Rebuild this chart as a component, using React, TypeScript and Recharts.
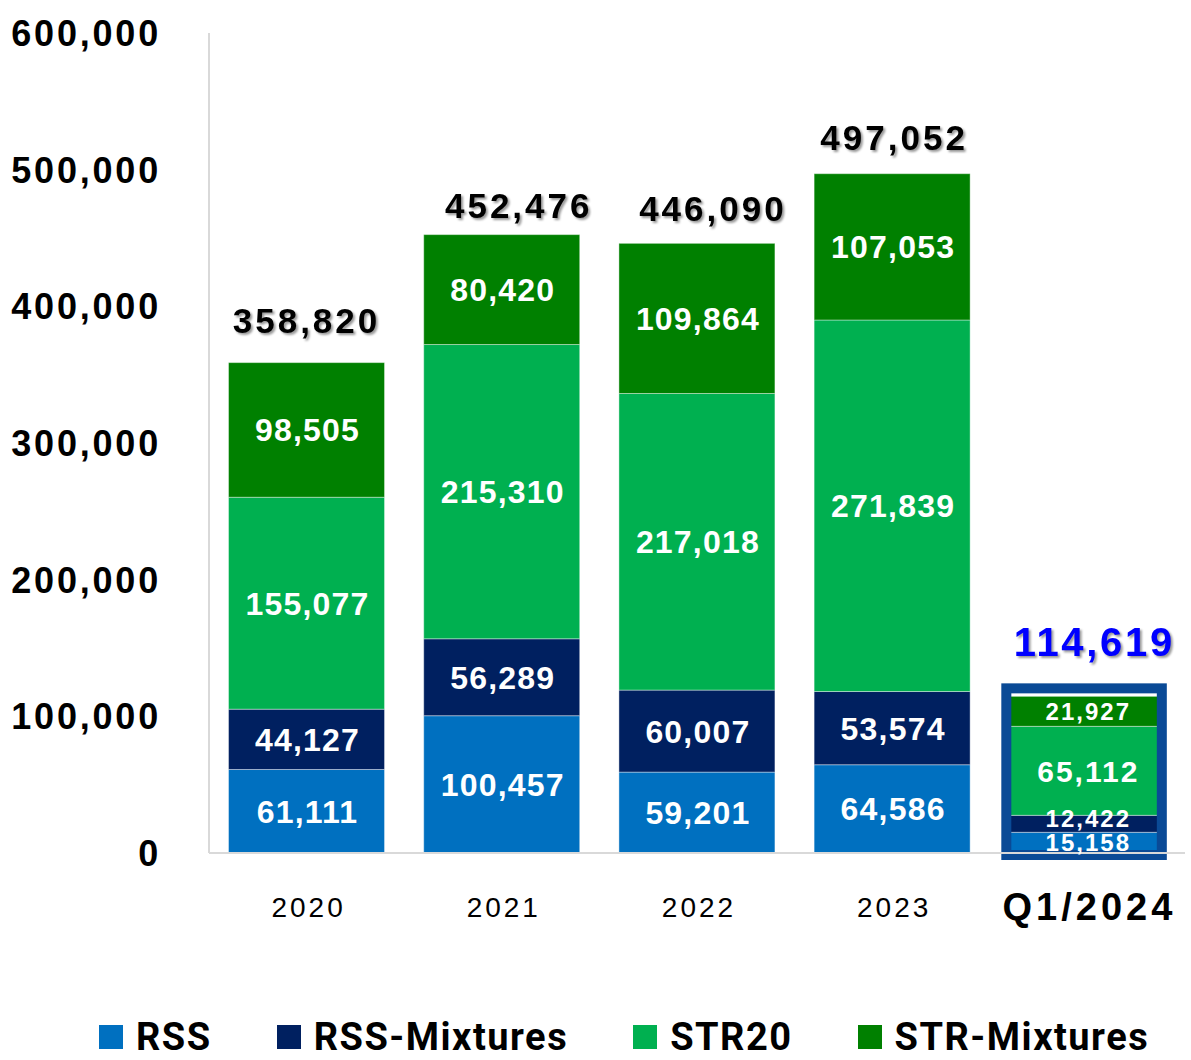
import { Bar, BarChart, LabelList, XAxis, YAxis } from "recharts";

const categories = ["2020", "2021", "2022", "2023", "Q1/2024"];
const rss = [61111, 100457, 59201, 64586, 15158];
const rssMixtures = [44127, 56289, 60007, 53574, 12422];
const str20 = [155077, 215310, 217018, 271839, 65112];
const strMixtures = [98505, 80420, 109864, 107053, 21927];
const totals = [358820, 452476, 446090, 497052, 114619];
const yTicks = [0, 100000, 200000, 300000, 400000, 500000, 600000];

const chartData = categories.map((label, i) => ({
    label,
    rss: rss[i],
    rssMixtures: rssMixtures[i],
    str20: str20[i],
    strMixtures: strMixtures[i],
    total: totals[i]
}));

const series = [
    { key: "rss", name: "RSS", color: "#0070C0" },
    { key: "rssMixtures", name: "RSS-Mixtures", color: "#002060" },
    { key: "str20", name: "STR20", color: "#00B050" },
    { key: "strMixtures", name: "STR-Mixtures", color: "#008000" }
];

// hand nudges for the total labels, like the original slide
const totalNudge = [
    { dx: 0, dy: -30 },
    { dx: 17, dy: -17 },
    { dx: 16, dy: -22 },
    { dx: 2, dy: -24 },
    { dx: 7, dy: -40 }
];

const FONT = "'Liberation Sans', Arial, sans-serif";
const fmt = (v: number) => v.toLocaleString("en-US");
const LAST = categories.length - 1;

function YTick({ x, y, payload }: any) {
    return (
        <text x={x - 46} y={y + 13} textAnchor="end" fontFamily={FONT} fontSize={36}
            fontWeight={700} letterSpacing={2.8} fill="#000">
            {fmt(payload.value)}
        </text>
    );
}

function XTick({ x, y, payload }: any) {
    const isQ = payload.value === "Q1/2024";
    return (
        <text x={x + 2} y={y + (isQ ? 67 : 64)} textAnchor="middle" fontFamily={FONT}
            fontSize={isQ ? 38 : 28} fontWeight={isQ ? 700 : 400}
            letterSpacing={isQ ? 4 : 3} fill="#000">
            {payload.value}
        </text>
    );
}

const innerLabel = (key: string) => (props: any) => {
    const vb = props.viewBox ?? props;
    const { x, y, width, height } = vb;
    const idx = props.index;
    const small = idx === LAST && key !== "str20";
    const size = idx === LAST ? (small ? 24 : 30) : 32;
    const nudge = idx === LAST && key === "rssMixtures" ? -5 : 0;
    return (
        <text x={x + width / 2 + 1} y={y + height / 2 + size * 0.36 + nudge} textAnchor="middle"
            fontFamily={FONT} fontSize={size} fontWeight={700}
            letterSpacing={idx === LAST ? 2 : 1.2} fill="#fff">
            {fmt(Number(props.value))}
        </text>
    );
};

function TotalLabel(props: any) {
    const vb = props.viewBox ?? props;
    const { x, width, y } = vb;
    const idx = props.index;
    const q = idx === LAST;
    const n = totalNudge[idx] ?? { dx: 0, dy: -24 };
    return (
        <text x={x + width / 2 + n.dx} y={y + n.dy} textAnchor="middle" fontFamily={FONT}
            fontSize={q ? 40 : 35} fontWeight={700} letterSpacing={q ? 2.7 : 3}
            fill={q ? "#0000FF" : "#000"}
            style={{ filter: "drop-shadow(2px 2px 1px rgba(0,0,0,0.4))" }}>
            {fmt(Number(props.value))}
        </text>
    );
}

function TopSegment(props: any) {
    const { x, y, width, height, fill, index, payload } = props;
    const seg = <rect x={x} y={y} width={width} height={height} fill={fill}
        stroke="rgba(255,255,255,0.4)" strokeWidth={1} />;
    if (index !== LAST) return seg;
    // frame around the whole Q1 stack: stack height scales from the top segment
    const stackBottom = y + (height * payload.total) / payload.strMixtures;
    return (
        <g>
            {seg}
            <rect x={x - 3} y={y - 8} width={width - 0.5} height={stackBottom - y + 10}
                fill="none" stroke="#0A4A96" strokeWidth={10} />
        </g>
    );
}

function PlainSegment(props: any) {
    const { x, y, width, height, fill } = props;
    return <rect x={x} y={y} width={width} height={height} fill={fill}
        stroke="rgba(255,255,255,0.4)" strokeWidth={1} />;
}

export default function App() {
    return (
        <div style={{ position: "relative", width: 1191, height: 1060, background: "#fff" }}>
            <style>{`body{margin:0}`}</style>
            <BarChart width={1191} height={960} data={chartData} barCategoryGap="10%"
                margin={{ top: 33, right: 6, left: 0, bottom: 0 }}>
                <YAxis domain={[0, 600000]} ticks={yTicks} width={209} tickLine={false}
                    tickSize={0} tick={<YTick />} axisLine={{ stroke: "#d9d9d9", strokeWidth: 2 }}
                    interval={0} />
                <XAxis dataKey="label" height={107} tickLine={false} tickSize={0} tickMargin={0}
                    tick={<XTick />} axisLine={{ stroke: "#d9d9d9", strokeWidth: 2 }} interval={0} />
                {series.map((s) => (
                    <Bar key={s.key} dataKey={s.key} name={s.name} stackId="a" fill={s.color}
                        isAnimationActive={false}
                        shape={s.key === "strMixtures" ? <TopSegment /> : <PlainSegment />}>
                        <LabelList dataKey={s.key} content={innerLabel(s.key)} />
                        {s.key === "strMixtures" && (
                            <LabelList dataKey="total" content={<TotalLabel />} />
                        )}
                    </Bar>
                ))}
            </BarChart>
            <div style={{
                position: "absolute", top: 1013, left: 99, display: "flex", gap: 65,
                fontFamily: "Roboto, sans-serif", fontWeight: 700, fontSize: 38,
                letterSpacing: 1.5, color: "#000", lineHeight: "48px"
            }}>
                {series.map((s) => (
                    <div key={s.key} style={{ display: "flex", alignItems: "center", gap: 13 }}>
                        <span style={{ width: 24, height: 24, background: s.color, display: "inline-block" }} />
                        <span>{s.name}</span>
                    </div>
                ))}
            </div>
        </div>
    );
}
